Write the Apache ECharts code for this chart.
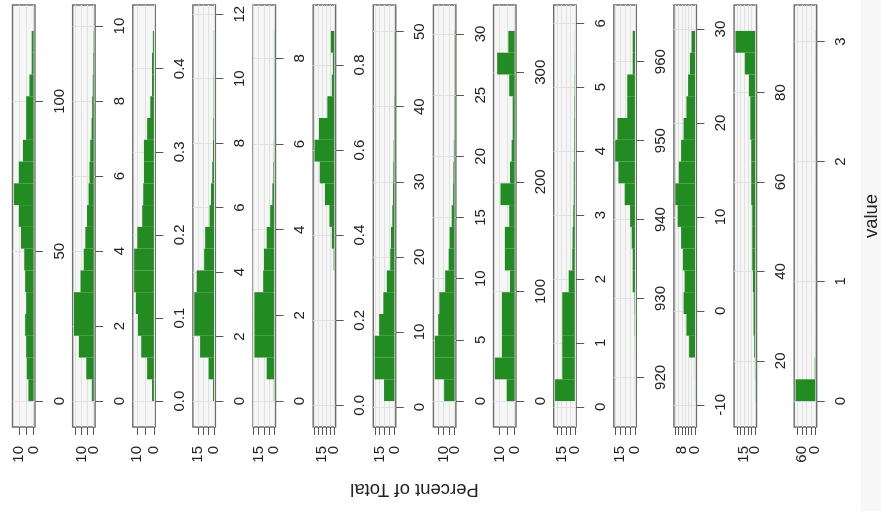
<!DOCTYPE html>
<html><head><meta charset="utf-8">
<script src="https://cdn.jsdelivr.net/npm/echarts@6/dist/echarts.min.js"></script>
<style>html,body{margin:0;padding:0;background:#fff}#c{width:881px;height:511px}</style>
</head><body><div id="c"></div>
<script>
// Range of each panel's variable (first and last histogram break)
const valueMin = [0, 0, 0, 0, 0, 0.01, 0.8, 0, 0, 0.09, 917.0, -9.6, 11.0, 0];
const valueMax = [123.5, 9.87, 0.4455, 11.48, 8.64, 0.88, 50.1, 30.25, 337.7, 5.88, 963.9, 29.8, 93.8, 3.09];

// Percent of total in each of the 17 bins (lowest value first)
const percent1  = [3.5, 4.6, 5.0, 5.7, 5.0, 5.7, 6.3, 8.5, 10.0, 13.3, 10.0, 7.2, 5.0, 5.0, 2.8, 1.3, 1.3];
const percent2  = [1.6, 6.2, 12.4, 16.4, 16.4, 11.0, 8.3, 7.0, 5.6, 4.3, 3.5, 2.9, 1.8, 1.3, 0.8, 0.5, 0.2];
const percent3  = [1.1, 4.0, 7.5, 9.4, 10.7, 11.7, 11.7, 9.8, 6.9, 6.3, 5.9, 5.9, 4.0, 2.1, 1.1, 1.1, 0.6];
const percent4  = [0.9, 5.0, 12.9, 18.3, 18.3, 16.1, 9.1, 8.2, 4.1, 2.8, 1.6, 0.9, 0.6, 0.3, 0.3, 0.2, 0.2];
const percent5  = [0.3, 7.2, 19.1, 19.1, 19.1, 10.6, 9.9, 7.2, 3.8, 1.7, 0.7, 0.3, 0.2, 0.2, 0.2, 0.2, 0.2];
const percent6  = [0.13, 0.13, 0.13, 0.13, 0.13, 0.13, 0.8, 3.0, 5.9, 11.5, 17.8, 24.2, 18.7, 8.5, 3.0, 1.7, 4.2];
const percent7  = [10.6, 20.2, 20.2, 15.6, 11.3, 7.8, 4.2, 3.5, 2.1, 1.4, 1.1, 0.7, 0.4, 0.4, 0.2, 0.2, 0.2];
const percent8  = [9.6, 18.2, 18.2, 15.0, 14.0, 8.6, 5.4, 4.5, 2.6, 1.3, 1.0, 0.6, 0.3, 0.3, 0.16, 0.16, 0.16];
const percent9  = [5.3, 13.1, 8.5, 8.5, 8.5, 3.1, 6.5, 6.5, 3.6, 9.4, 3.1, 2.0, 1.3, 1.3, 3.6, 11.6, 4.2];
const percent10 = [22.7, 14.4, 14.4, 14.4, 14.4, 7.0, 2.9, 2.5, 1.7, 1.2, 1.2, 0.8, 0.8, 0.6, 0.4, 0.2, 0.1];
const percent11 = [0.1, 0.1, 0.16, 0.33, 0.5, 2.3, 2.3, 3.3, 4.9, 10.5, 17.0, 20.3, 18.0, 7.9, 7.9, 2.3, 2.3];
const percent12 = [0.06, 0.1, 3.6, 5.2, 6.9, 6.3, 7.3, 8.4, 10.5, 11.9, 9.8, 8.4, 6.9, 5.2, 4.2, 3.1, 2.1];
const percent13 = [0.2, 0.4, 1.3, 2.2, 2.2, 3.1, 4.0, 4.0, 4.0, 5.3, 5.3, 5.3, 6.6, 6.6, 8.4, 14.1, 26.9];
const percent14 = [87.8, 2.5, 0.7, 0.6, 0.7, 0.6, 0.7, 0.6, 0.6, 0.7, 0.6, 0.6, 0.7, 0.6, 0.6, 0.7, 0.6];
const percents = [percent1, percent2, percent3, percent4, percent5, percent6, percent7,
                  percent8, percent9, percent10, percent11, percent12, percent13, percent14];

// Tick values of the value axes
const valueTicks = [
  [0, 50, 100], [0, 2, 4, 6, 8, 10], [0, 0.1, 0.2, 0.3, 0.4], [0, 2, 4, 6, 8, 10, 12],
  [0, 2, 4, 6, 8], [0, 0.2, 0.4, 0.6, 0.8], [0, 10, 20, 30, 40, 50], [0, 5, 10, 15, 20, 25, 30],
  [0, 100, 200, 300], [0, 1, 2, 3, 4, 5, 6], [920, 930, 940, 950, 960], [-10, 0, 10, 20, 30],
  [20, 40, 60, 80], [0, 1, 2, 3]
];
const valueDigits = [0, 0, 1, 0, 0, 1, 0, 0, 0, 0, 0, 0, 0, 0];
// Tick values and shown labels of the percent axes
const percentTicks = [
  [0, 5, 10, 15], [0, 5, 10, 15], [0, 5, 10], [0, 5, 10, 15], [0, 5, 10, 15, 20], [0, 5, 10, 15, 20, 25],
  [0, 5, 10, 15, 20], [0, 5, 10, 15], [0, 5, 10], [0, 5, 10, 15, 20], [0, 5, 10, 15, 20],
  [0, 2, 4, 6, 8, 10, 12], [0, 5, 10, 15, 20, 25], [0, 20, 40, 60, 80]
];
const percentZeroLabel = [0];
const percentUpperLabel = [10, 10, 10, 15, 15, 15, 15, 10, 10, 15, 15, 8, 15, 60];
const xLabel = 'Percent of Total';
const yLabel = 'value';

const FONT = 'Liberation Sans, Arial, sans-serif';
const NB = 17;
const grids = [], xAxes = [], yAxes = [], series = [];
for (let i = 0; i < percents.length; i++) {
  const pct = percents[i];
  const lo = valueMin[i], hi = valueMax[i], span = hi - lo;
  const m = Math.max.apply(null, pct);
  grids.push({left: 12.5 + 60.13 * i, top: 5, width: 22.5, height: 422, show: true,
    backgroundColor: '#f6f6f6', borderColor: '#6e6e6e', borderWidth: 1.4});
  const labelStyle = {rotate: 90, margin: 19, fontSize: 15, color: '#222', fontFamily: FONT};
  xAxes.push({gridIndex: i, type: 'value', inverse: true, min: -0.07 * m, max: 1.07 * m, position: 'bottom', offset: 0,
    axisLine: {show: false, onZero: false},
    axisTick: {show: true, length: 8, customValues: percentTicks[i], lineStyle: {color: '#555'}},
    axisLabel: Object.assign({customValues: [percentUpperLabel[i]]}, labelStyle),
    splitLine: {show: true, lineStyle: {color: '#e1e1e1', width: 1}}});
  xAxes.push({gridIndex: i, type: 'value', inverse: true, min: -0.07 * m, max: 1.07 * m, position: 'bottom', offset: 0,
    axisLine: {show: false, onZero: false},
    axisTick: {show: false},
    axisLabel: Object.assign({customValues: percentZeroLabel}, labelStyle),
    splitLine: {show: false}});
  const d = valueDigits[i];
  yAxes.push({gridIndex: i, type: 'value', position: 'right', min: lo - 0.07 * span, max: hi + 0.07 * span,
    axisLine: {show: false, onZero: false},
    axisTick: {show: true, length: 8, customValues: valueTicks[i], lineStyle: {color: '#555'}},
    axisLabel: {customValues: valueTicks[i], rotate: 90, margin: 17, fontSize: 15, color: '#222', fontFamily: FONT,
      showMinLabel: true, showMaxLabel: true, hideOverlap: false,
      formatter: v => Number(v).toFixed(d)},
    splitLine: {show: true, lineStyle: {color: '#e1e1e1', width: 1}}});
  const data = pct.map((p, k) => [lo + span * k / NB, lo + span * (k + 1) / NB, p]);
  series.push({type: 'custom', xAxisIndex: 2 * i, yAxisIndex: i, data: data, encode: {x: 2, y: [0, 1]},
    silent: true, animation: false, clip: true,
    renderItem: function (params, api) {
      const a = api.coord([0, api.value(0)]);
      const b = api.coord([api.value(2), api.value(1)]);
      return {type: 'rect',
        shape: {x: Math.min(a[0], b[0]), y: Math.min(a[1], b[1]), width: Math.abs(a[0] - b[0]), height: Math.abs(a[1] - b[1])},
        style: {fill: '#228b22'}};
    }});
}

const chart = echarts.init(document.getElementById('c'));
chart.setOption({
  animation: false,
  backgroundColor: '#ffffff',
  grid: grids, xAxis: xAxes, yAxis: yAxes, series: series,
  graphic: [
    {type: 'rect', left: 861, top: 0, shape: {width: 20, height: 511}, style: {fill: '#f7f7f7'}, z: -1},
    {type: 'text', x: 872, y: 216, rotation: Math.PI / 2,
      style: {text: yLabel, fontSize: 18.5, fontFamily: FONT, fill: '#222', align: 'center', verticalAlign: 'middle'}},
    {type: 'text', x: 414.5, y: 489, rotation: Math.PI,
      style: {text: xLabel, fontSize: 18.5, fontFamily: FONT, fill: '#222', align: 'center', verticalAlign: 'middle'}}
  ]
});
</script></body></html>
